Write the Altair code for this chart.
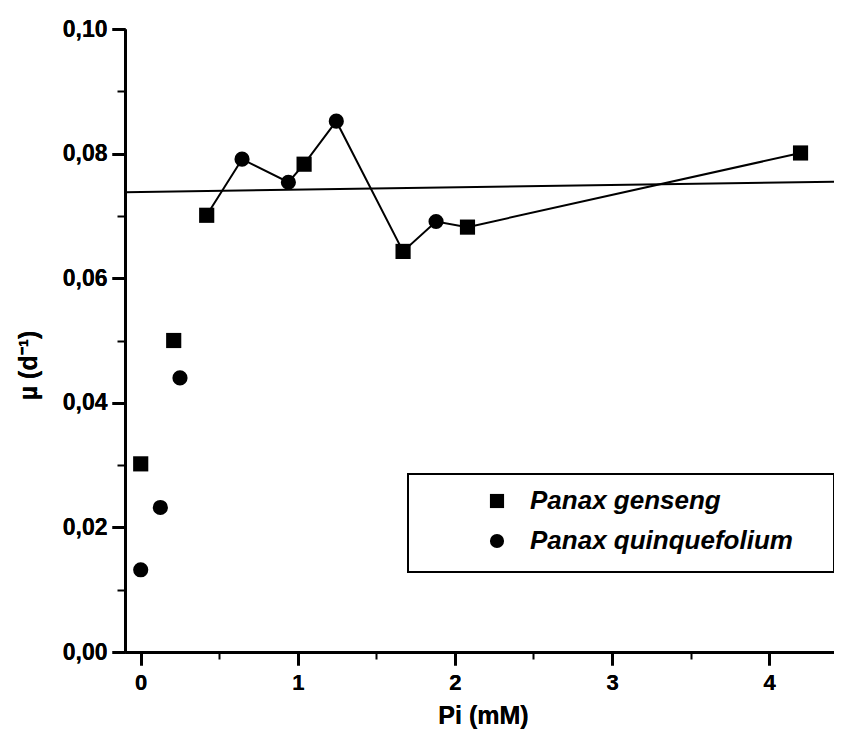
import altair as alt
import pandas as pd

# Panax genseng (squares)
gen_x = [0.0, 0.21, 0.42, 1.04, 1.67, 2.08, 4.2]
gen_y = [0.0302, 0.0500, 0.0701, 0.0783, 0.0643, 0.0682, 0.0801]
# Panax quinquefolium (circles)
qui_x = [0.0, 0.125, 0.25, 0.645, 0.94, 1.245, 1.88]
qui_y = [0.0132, 0.0232, 0.0440, 0.0791, 0.0754, 0.0852, 0.0691]
species = ["Panax genseng", "Panax quinquefolium"]

# regression (horizontal fit) line end points
reg_x = [-0.1, 4.413]
reg_y = [0.0738, 0.0755]

x_major = [0, 1, 2, 3, 4]
x_minor = [0.5, 1.5, 2.5, 3.5]
y_major = [0.0, 0.02, 0.04, 0.06, 0.08, 0.10]
y_minor = [0.01, 0.03, 0.05, 0.07, 0.09]

pts = pd.DataFrame(
    {"x": gen_x + qui_x, "y": gen_y + qui_y,
     "s": [species[0]] * len(gen_x) + [species[1]] * len(qui_x)}
)
reg = pd.DataFrame({"x": reg_x, "y": reg_y})

FONT = "Liberation Sans"
W, H = 709, 623
xs = alt.Scale(domain=[-0.1, 4.413], nice=False, zero=False)
ys = alt.Scale(domain=[0.0, 0.10], nice=False, zero=False)

x_axis = alt.Axis(values=x_major, format="d", tickSize=13, tickWidth=3,
                  domainWidth=3, labelFontSize=22, labelFont=FONT,
                  labelFontWeight="bold", labelPadding=7, title="Pi (mM)",
                  titleFont=FONT, titleFontSize=25, titleFontWeight="bold",
                  titlePadding=10, titleX=358, orient="bottom")
y_axis = alt.Axis(values=y_major, tickSize=13, tickWidth=3, domainWidth=3,
                  labelExpr="replace(format(datum.value, '.2f'), '.', ',')",
                  labelFontSize=23, labelFont=FONT, labelFontWeight="bold",
                  labelPadding=5, title="µ (d⁻¹)", titleFont=FONT,
                  titleFontSize=25, titleFontWeight="bold", titleX=-97,
                  titleY=336, titleBaseline="middle", orient="left")
x_axis_minor = alt.Axis(values=x_minor, tickSize=7, tickWidth=2, domain=False,
                        labels=False, title=None, orient="bottom")
y_axis_minor = alt.Axis(values=y_minor, tickSize=8, tickWidth=2, domain=False,
                        labels=False, title=None, orient="left")

regline = alt.Chart(reg).mark_line(color="black", strokeWidth=2).encode(
    x=alt.X("x:Q", scale=xs, axis=x_axis_minor),
    y=alt.Y("y:Q", scale=ys, axis=y_axis_minor),
)

box = alt.Chart(reg).mark_rect(fill="white", stroke="black", strokeWidth=2).encode(
    x=alt.value(283), x2=alt.value(W), y=alt.value(445), y2=alt.value(543)
).transform_filter("datum.x < 0")

conn = alt.Chart(pts).transform_filter("datum.x >= 0.4").mark_line(
    color="black", strokeWidth=2).encode(
    x=alt.X("x:Q", scale=xs, axis=x_axis),
    y=alt.Y("y:Q", scale=ys, axis=y_axis),
    order="x:Q",
)

points = alt.Chart(pts).mark_point(filled=True, color="black", opacity=1, size=230).encode(
    x=alt.X("x:Q", scale=xs, axis=x_axis),
    y=alt.Y("y:Q", scale=ys, axis=y_axis),
    shape=alt.Shape("s:N", scale=alt.Scale(domain=species, range=["square", "circle"]),
                    legend=alt.Legend(title=None, orient="none", legendX=359, legendY=459,
                                      labelFont=FONT, labelFontSize=26,
                                      labelFontStyle="italic", labelFontWeight="bold",
                                      labelColor="black", labelOffset=20,
                                      symbolSize=200, symbolFillColor="black",
                                      symbolStrokeColor="black", symbolStrokeWidth=0,
                                      rowPadding=14, padding=0, labelLimit=400)),
)

chart = alt.layer(regline, box, conn, points).resolve_axis(
    x="independent", y="independent"
).properties(
    width=W, height=H,
    autosize=alt.AutoSizeParams(type="none"),
    padding={"left": 117, "top": 21, "right": 0, "bottom": 86},
).configure_view(stroke=None).configure_axis(
    grid=False, domainColor="black", tickColor="black", labelColor="black",
    titleColor="black"
)

chart.save("out.html", embed_options={"renderer": "svg", "actions": False})
